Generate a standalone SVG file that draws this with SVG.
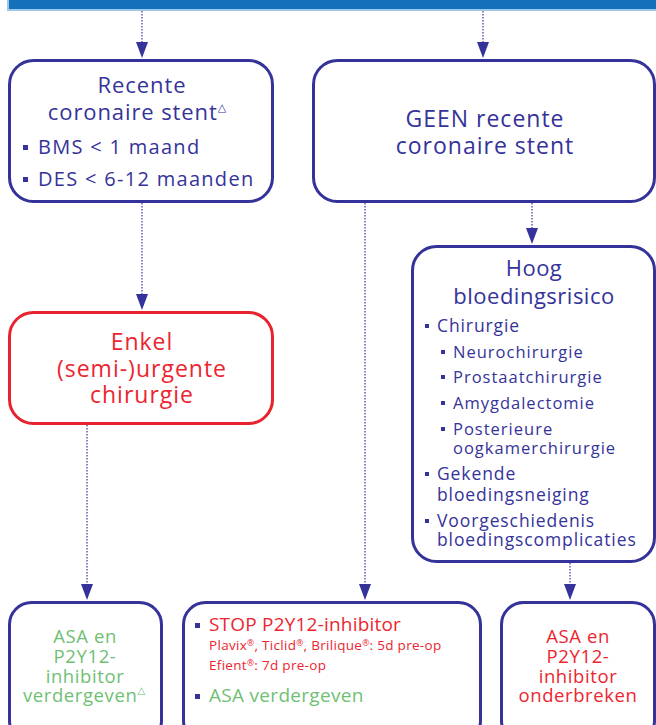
<svg xmlns="http://www.w3.org/2000/svg" width="656" height="725" viewBox="0 0 656 725">
<style>
text{font-family:"Open Sans","Liberation Sans",sans-serif;font-weight:400;}
.box{fill:#fff;stroke:#35339a;stroke-width:3;}
.rbox{fill:#fff;stroke:#e8232f;stroke-width:3;}
.n{fill:#35339a;}
.r{fill:#ec2530;}
.g{fill:#6fbf74;}
.c{text-anchor:middle;}
.b{font-size:18.5px;letter-spacing:0.6px;}
.conn line{stroke:#4643a6;stroke-width:1.3;stroke-dasharray:1.4 1.6;}
.conn polygon{fill:#35339a;}
.sq{fill:#35339a;}
.tri{font-family:"DejaVu Sans",sans-serif;letter-spacing:0;}
</style>
<rect x="8" y="-6" width="660" height="16" fill="#1470b8" stroke="#9ec6e8" stroke-width="2"/>
<g id="connectors" class="conn">
<line x1="142" y1="11" x2="142" y2="43"/><polygon points="136,42 148,42 142,58"/>
<line x1="483" y1="11" x2="483" y2="43"/><polygon points="477,42 489,42 483,58"/>
<line x1="142" y1="203" x2="142" y2="295"/><polygon points="136,294 148,294 142,310"/>
<line x1="532" y1="203" x2="532" y2="229"/><polygon points="526,228 538,228 532,244"/>
<line x1="87" y1="425" x2="87" y2="585"/><polygon points="81,584 93,584 87,600"/>
<line x1="365" y1="203" x2="365" y2="585"/><polygon points="359,584 371,584 365,600"/>
<line x1="570" y1="563" x2="570" y2="585"/><polygon points="564,584 576,584 570,600"/>
</g>
<g id="recente">
<rect class="box" x="9.5" y="60.5" width="263" height="141" rx="24"/>
<text class="n c" x="142" y="93" font-size="22" letter-spacing="0.9">Recente</text>
<text class="n c" x="137" y="120" font-size="22" letter-spacing="0.9">coronaire stent<tspan class="tri" font-size="11" dy="-9">△</tspan></text>
<rect class="sq" x="23" y="145" width="5" height="5"/>
<text class="n" x="38" y="154" font-size="20" letter-spacing="1.3">BMS &lt; 1 maand</text>
<rect class="sq" x="23" y="177" width="5" height="5"/>
<text class="n" x="38" y="186" font-size="20" letter-spacing="1.3">DES &lt; 6-12 maanden</text>
</g>
<g id="geen">
<rect class="box" x="313.5" y="60.5" width="341" height="141" rx="24"/>
<text class="n c" x="485" y="127" font-size="23" letter-spacing="1">GEEN recente</text>
<text class="n c" x="485" y="154" font-size="23" letter-spacing="1">coronaire stent</text>
</g>
<g id="enkel">
<rect class="rbox" x="9.5" y="312.5" width="263" height="111" rx="24"/>
<text class="r c" x="142" y="350" font-size="23" letter-spacing="1">Enkel</text>
<text class="r c" x="142" y="377" font-size="23" letter-spacing="1">(semi-)urgente</text>
<text class="r c" x="142" y="403" font-size="23" letter-spacing="1">chirurgie</text>
</g>
<g id="hoog">
<rect class="box" x="412.5" y="246.5" width="242" height="315" rx="24"/>
<text class="n c" x="534" y="276" font-size="22" letter-spacing="0.5">Hoog</text>
<text class="n c" x="534" y="304" font-size="22" letter-spacing="0.5">bloedingsrisico</text>
<rect class="sq" x="425" y="324" width="4" height="4"/>
<text class="n" x="437" y="332" font-size="17.5" letter-spacing="0.9">Chirurgie</text>
<rect class="sq" x="441" y="350" width="4" height="4"/>
<text class="n" x="453" y="358" font-size="16.5" letter-spacing="1">Neurochirurgie</text>
<rect class="sq" x="441" y="375" width="4" height="4"/>
<text class="n" x="453" y="383" font-size="16.5" letter-spacing="1">Prostaatchirurgie</text>
<rect class="sq" x="441" y="401" width="4" height="4"/>
<text class="n" x="453" y="409" font-size="16.5" letter-spacing="1">Amygdalectomie</text>
<rect class="sq" x="441" y="427" width="4" height="4"/>
<text class="n" x="453" y="435" font-size="16.5" letter-spacing="1">Posterieure</text>
<text class="n" x="453" y="454" font-size="16.5" letter-spacing="1">oogkamerchirurgie</text>
<rect class="sq" x="425" y="472" width="4" height="4"/>
<text class="n" x="437" y="480" font-size="17.5" letter-spacing="0.9">Gekende</text>
<text class="n" x="437" y="501" font-size="17.5" letter-spacing="0.9">bloedingsneiging</text>
<rect class="sq" x="425" y="519" width="4" height="4"/>
<text class="n" x="437" y="527" font-size="17.5" letter-spacing="0.9">Voorgeschiedenis</text>
<text class="n" x="437" y="546" font-size="17.5" letter-spacing="0.9">bloedingscomplicaties</text>
</g>
<g id="asa-verder">
<rect class="box" x="9.5" y="602.5" width="152" height="140" rx="22"/>
<text class="g c b" x="85" y="643">ASA en</text>
<text class="g c b" x="85" y="663">P2Y12-</text>
<text class="g c b" x="85" y="683">inhibitor</text>
<text class="g c b" x="84" y="702">verdergeven<tspan class="tri" font-size="10" dy="-8">△</tspan></text>
</g>
<g id="stop">
<rect class="box" x="183.5" y="602.5" width="297" height="140" rx="22"/>
<rect class="sq" x="195" y="623" width="5" height="5"/>
<text class="r" x="209" y="631" font-size="19" letter-spacing="0.2">STOP P2Y12-inhibitor</text>
<text class="r" x="209" y="650" font-size="13.5" letter-spacing="0.3">Plavix<tspan font-size="8.5" dy="-4">®</tspan><tspan dy="4">, Ticlid</tspan><tspan font-size="8.5" dy="-4">®</tspan><tspan dy="4">, Brilique</tspan><tspan font-size="8.5" dy="-4">®</tspan><tspan dy="4">: 5d pre-op</tspan></text>
<text class="r" x="209" y="670" font-size="13.5" letter-spacing="0.3">Efient<tspan font-size="8.5" dy="-4">®</tspan><tspan dy="4">: 7d pre-op</tspan></text>
<rect class="sq" x="195" y="694" width="5" height="5"/>
<text class="g" x="209" y="702" font-size="19" letter-spacing="0.3">ASA verdergeven</text>
</g>
<g id="asa-onder">
<rect class="box" x="501.5" y="602.5" width="153" height="140" rx="22"/>
<text class="r c b" x="578" y="643">ASA en</text>
<text class="r c b" x="578" y="663">P2Y12-</text>
<text class="r c b" x="578" y="683">inhibitor</text>
<text class="r c b" x="578" y="702">onderbreken</text>
</g>
</svg>
